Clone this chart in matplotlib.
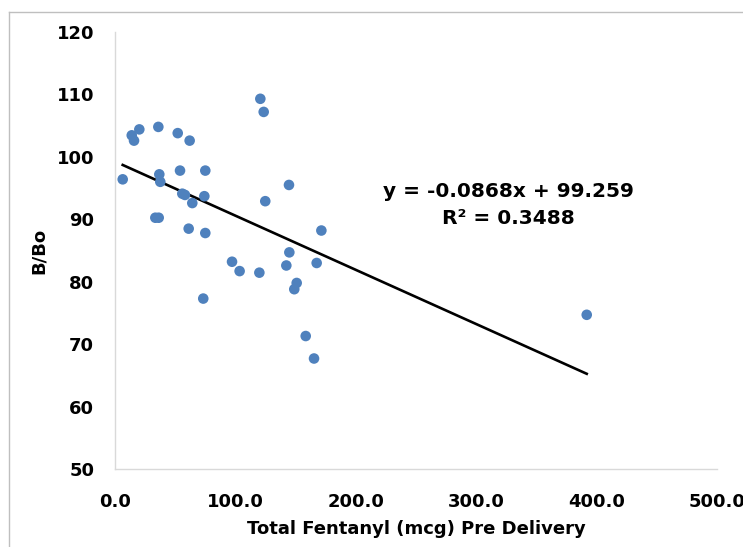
import matplotlib
matplotlib.use("Agg")
import matplotlib.pyplot as plt
from matplotlib.lines import Line2D
from matplotlib.ticker import FormatStrFormatter
import numpy as np

# total fentanyl (mcg) pre delivery vs B/Bo
fentanyl = [120.7, 123.5, 20.2, 13.9, 15.8, 36.0, 52.1, 62.0, 6.4, 36.8,
            37.6, 54.0, 75.0, 144.5, 55.9, 58.1, 74.2, 64.2, 124.8, 33.5,
            36.3, 61.2, 75.0, 171.4, 144.8, 97.2, 167.5, 142.3, 103.5, 119.9,
            150.9, 148.9, 73.3, 158.4, 165.3, 391.8]
b_bo = [109.3, 107.2, 104.4, 103.45, 102.6, 104.8, 103.8, 102.6, 96.4, 97.2,
        96.0, 97.8, 97.8, 95.5, 94.1, 93.9, 93.7, 92.6, 92.9, 90.25,
        90.25, 88.5, 87.8, 88.2, 84.7, 83.2, 83.0, 82.6, 81.7, 81.45,
        79.8, 78.8, 77.3, 71.3, 67.7, 74.7]

# trendline as reported on the chart
slope = -0.0868
intercept = 99.259
r_squared = 0.3488

x_ticks = [0, 100, 200, 300, 400, 500]
y_ticks = [50, 60, 70, 80, 90, 100, 110, 120]

plt.rcParams['font.family'] = ['DejaVu Sans']
plt.rcParams['font.weight'] = 'bold'

fig = plt.figure(figsize=(7.43, 5.47), dpi=100)
ax = fig.add_axes([115/743, 78/547, (717-115)/743, (469-32)/547])

ax.scatter(fentanyl, b_bo, s=58, color='#4F81BD', edgecolors='none', zorder=3)

# linear trendline over the data range
xs = np.array([min(fentanyl), max(fentanyl)])
ax.plot(xs, slope*xs + intercept, color='black', linewidth=1.9, zorder=2)

ax.text(0.654, 0.604, f'y = {slope}x + {intercept}\nR² = {r_squared}',
        transform=ax.transAxes, ha='center', va='center', fontsize=14.5,
        fontweight='bold', linespacing=1.55)

ax.set_xlim(0, 500)
ax.set_ylim(50, 120)
ax.set_xticks(x_ticks)
ax.set_yticks(y_ticks)
ax.xaxis.set_major_formatter(FormatStrFormatter('%.1f'))
ax.tick_params(length=0, labelsize=13)
ax.tick_params(axis='x', pad=17)
ax.tick_params(axis='y', pad=15)
for lbl in ax.get_xticklabels() + ax.get_yticklabels():
    lbl.set_fontweight('bold')

for side in ['top', 'right']:
    ax.spines[side].set_visible(False)
for side in ['left', 'bottom']:
    ax.spines[side].set_color('#d9d9d9')
    ax.spines[side].set_linewidth(1.0)

ax.set_xlabel('Total Fentanyl (mcg) Pre Delivery', fontsize=13, fontweight='bold', labelpad=7)
ax.set_ylabel('B/Bo', fontsize=13, fontweight='bold', labelpad=6)

# chart frame, cut off at right and bottom
fig.add_artist(Line2D([9/743, 1], [1-12/547, 1-12/547], color='#bfbfbf', linewidth=1.0))
fig.add_artist(Line2D([9/743, 9/743], [0, 1-12/547], color='#bfbfbf', linewidth=1.0))

plt.savefig('out.png', dpi=100)
